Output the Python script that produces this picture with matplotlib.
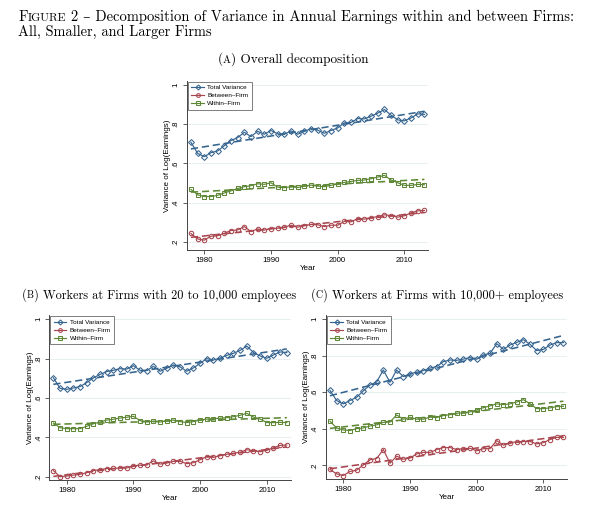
import matplotlib
matplotlib.use("Agg")
import matplotlib.pyplot as plt
import numpy as np

## Data
years = list(range(1978, 2014))

# (A) all firms
a_total = [0.707, 0.651, 0.634, 0.654, 0.663, 0.689, 0.716, 0.731, 0.758, 0.736, 0.763, 0.748,
           0.767, 0.750, 0.748, 0.765, 0.748, 0.762, 0.777, 0.769, 0.753, 0.767, 0.780, 0.806,
           0.808, 0.828, 0.826, 0.840, 0.855, 0.874, 0.845, 0.821, 0.816, 0.831, 0.852, 0.849]
a_between = [0.243, 0.215, 0.209, 0.229, 0.231, 0.244, 0.258, 0.261, 0.278, 0.253, 0.266, 0.260,
             0.268, 0.270, 0.275, 0.285, 0.275, 0.282, 0.289, 0.287, 0.278, 0.285, 0.285, 0.304,
             0.302, 0.319, 0.316, 0.323, 0.329, 0.338, 0.334, 0.326, 0.333, 0.348, 0.358, 0.360]
a_within = [0.467, 0.440, 0.431, 0.431, 0.437, 0.449, 0.460, 0.472, 0.481, 0.486, 0.496, 0.493,
            0.501, 0.479, 0.476, 0.481, 0.477, 0.484, 0.489, 0.484, 0.481, 0.488, 0.496, 0.503,
            0.508, 0.513, 0.515, 0.522, 0.530, 0.539, 0.515, 0.501, 0.488, 0.488, 0.493, 0.491]

# (B) firms with 20 to 10,000 employees
b_total = [0.703, 0.649, 0.644, 0.651, 0.658, 0.678, 0.702, 0.720, 0.734, 0.741, 0.749, 0.747,
           0.764, 0.741, 0.739, 0.761, 0.736, 0.751, 0.768, 0.758, 0.736, 0.753, 0.776, 0.800,
           0.793, 0.803, 0.817, 0.827, 0.842, 0.864, 0.831, 0.814, 0.802, 0.819, 0.834, 0.831]
b_between = [0.231, 0.200, 0.203, 0.208, 0.212, 0.220, 0.231, 0.236, 0.241, 0.242, 0.244, 0.244,
             0.256, 0.258, 0.261, 0.280, 0.264, 0.269, 0.278, 0.278, 0.266, 0.271, 0.286, 0.302,
             0.298, 0.307, 0.314, 0.319, 0.324, 0.337, 0.332, 0.327, 0.334, 0.347, 0.359, 0.361]
b_within = [0.473, 0.449, 0.444, 0.444, 0.444, 0.456, 0.469, 0.478, 0.488, 0.492, 0.498, 0.502,
            0.507, 0.485, 0.480, 0.481, 0.478, 0.483, 0.488, 0.480, 0.475, 0.480, 0.488, 0.493,
            0.495, 0.497, 0.500, 0.505, 0.512, 0.522, 0.503, 0.493, 0.475, 0.475, 0.476, 0.475]

# (C) firms with 10,000+ employees
c_total = [0.610, 0.554, 0.536, 0.554, 0.572, 0.607, 0.639, 0.656, 0.721, 0.654, 0.721, 0.685,
           0.701, 0.709, 0.718, 0.732, 0.740, 0.767, 0.776, 0.774, 0.781, 0.789, 0.780, 0.803,
           0.812, 0.865, 0.834, 0.858, 0.872, 0.887, 0.862, 0.827, 0.834, 0.858, 0.871, 0.871]
c_between = [0.177, 0.153, 0.144, 0.166, 0.173, 0.202, 0.230, 0.237, 0.286, 0.211, 0.250, 0.233,
             0.240, 0.262, 0.271, 0.270, 0.286, 0.297, 0.297, 0.286, 0.291, 0.293, 0.279, 0.291,
             0.291, 0.335, 0.310, 0.324, 0.328, 0.330, 0.330, 0.317, 0.324, 0.341, 0.353, 0.352]
c_within = [0.441, 0.404, 0.393, 0.390, 0.401, 0.404, 0.415, 0.421, 0.435, 0.437, 0.475, 0.452,
            0.463, 0.452, 0.452, 0.464, 0.461, 0.472, 0.477, 0.485, 0.486, 0.492, 0.503, 0.515,
            0.525, 0.536, 0.532, 0.536, 0.546, 0.559, 0.536, 0.510, 0.510, 0.514, 0.521, 0.523]

series_names = ["Total Variance", "Between\u2013Firm", "Within\u2013Firm"]
yticks = [0.2, 0.4, 0.6, 0.8, 1.0]
ytick_labels = [".2", ".4", ".6", ".8", "1"]
xticks = [1980, 1990, 2000, 2010]

colors = ["#35648f", "#a9454e", "#5e8836"]
markers = ["D", "o", "s"]
msizes = [3.0, 3.2, 3.0]

serif = ["cmr10", "DejaVu Serif"]
sans = ["Liberation Sans", "DejaVu Sans"]

fig = plt.figure(figsize=(6, 5.05), dpi=100)


def panel(rect, ylo, data):
    ax = fig.add_axes(rect)
    yrs = np.array(years)
    for vals, name, c, m, ms in zip(data, series_names, colors, markers, msizes):
        ax.plot(yrs, vals, color=c, lw=0.85, marker=m, ms=ms, mfc="none",
                mew=0.75, label=name)
    # linear fits, as in the source figure
    for vals, c in zip(data, colors):
        k, b = np.polyfit(yrs, vals, 1)
        ax.plot(yrs, np.polyval([k, b], yrs), color=c, lw=1.15, ls=(0, (4.5, 2.4)))
    ax.set_xlim(1977.35, 2013.6)
    ax.set_ylim(ylo, 1.02)
    ax.set_yticks(yticks)
    ax.set_yticklabels(ytick_labels, rotation=90, va="center", family=sans, fontsize=5.6)
    ax.set_xticks(xticks)
    ax.set_xticklabels([str(x) for x in xticks], family=sans, fontsize=5.7)
    ax.tick_params(length=3, width=0.6, color="#444444", pad=2)
    ax.grid(axis="y", color="#e8eff1", lw=0.7)
    ax.set_axisbelow(True)
    for s in ["top", "right"]:
        ax.spines[s].set_visible(False)
    for s in ["left", "bottom"]:
        ax.spines[s].set_color("#444444")
        ax.spines[s].set_linewidth(0.7)
    ax.set_ylabel("Variance of Log(Earnings)", family=sans, fontsize=5.8, labelpad=1)
    ax.set_xlabel("Year", family=sans, fontsize=5.8, labelpad=1)
    leg = ax.legend(loc="upper left", bbox_to_anchor=(0.006, 0.995), borderaxespad=0,
                    prop={"family": sans, "size": 4.6}, fancybox=False, frameon=True,
                    handlelength=2.0, handletextpad=0.5, labelspacing=0.4,
                    borderpad=0.5, markerscale=0.85)
    leg.get_frame().set_edgecolor("#444444")
    leg.get_frame().set_linewidth(0.6)
    return ax


panel([0.311, 0.505, 0.403, 0.335], 0.159, [a_total, a_between, a_within])
panel([0.0817, 0.0495, 0.403, 0.326], 0.183, [b_total, b_between, b_within])
panel([0.5427, 0.0515, 0.403, 0.324], 0.125, [c_total, c_between, c_within])

renderer = fig.canvas.get_renderer()


def line_of_text(x, y, parts, ha="left"):
    # parts: list of (text, size); pieces sit side by side on one baseline
    objs = []
    total = 0
    for s, size in parts:
        t = fig.text(0, y, s, fontsize=size, family=serif, va="baseline", ha="left")
        w = t.get_window_extent(renderer=renderer).width / fig.bbox.width
        objs.append((t, w))
        total += w
    if ha == "center":
        x = x - total / 2
    for t, w in objs:
        t.set_x(x)
        x += w


line_of_text(18.5 / 600, 1 - 20.7 / 505,
             [("F", 10.5), ("IGURE", 8.4),
              ("\u00a02 \u2013 Decomposition of Variance in Annual Earnings within and between Firms:", 10.5)])
line_of_text(18.5 / 600, 1 - 35.7 / 505, [("All, Smaller, and Larger Firms", 10.4)])
line_of_text(293 / 600, 1 - 62.7 / 505, [("(", 9.5), ("A", 7.6), (") Overall decomposition", 9.5)], ha="center")
line_of_text(159 / 600, 1 - 298.5 / 505, [("(", 8.9), ("B", 7.1), (") Workers at Firms with 20 to 10,000 employees", 8.9)], ha="center")
line_of_text(437 / 600, 1 - 298.5 / 505, [("(", 8.9), ("C", 7.1), (") Workers at Firms with 10,000+ employees", 8.9)], ha="center")

fig.savefig("out.png", dpi=100)
